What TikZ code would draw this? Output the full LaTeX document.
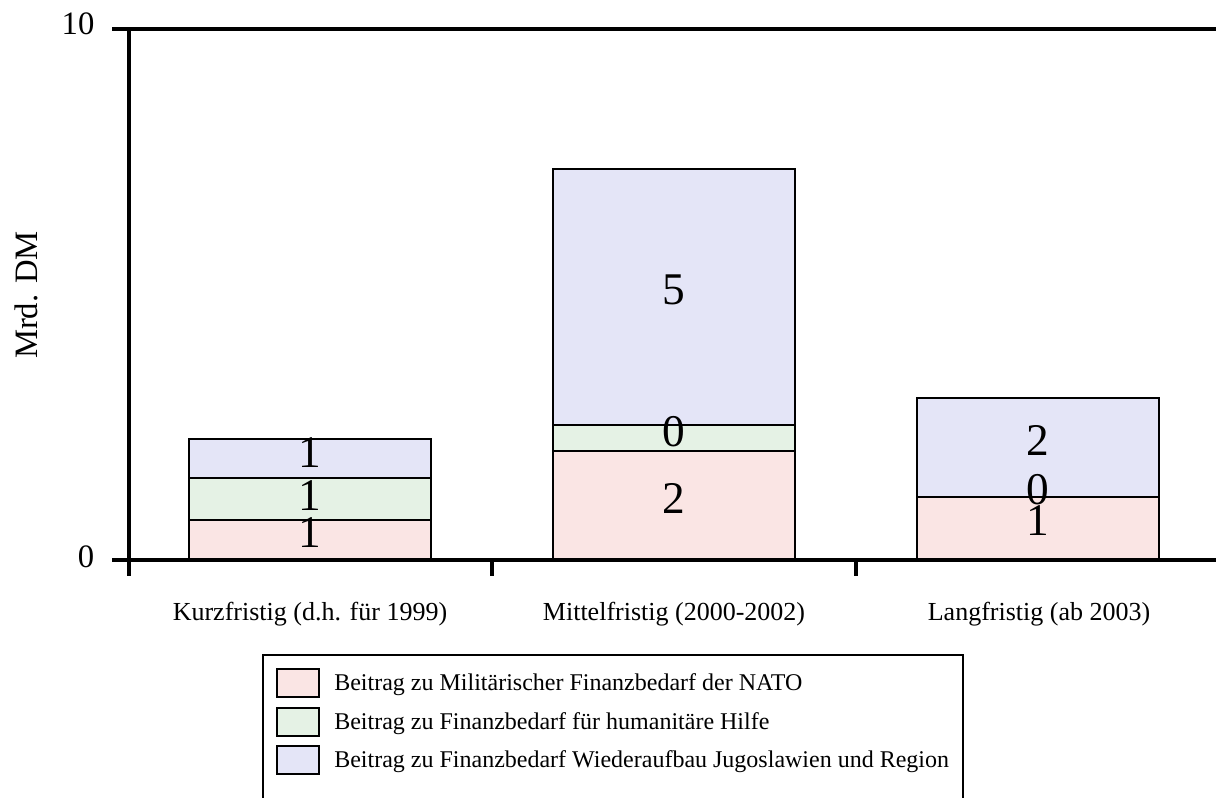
\documentclass[tikz,border=0pt]{standalone}
\usepackage{fontspec}
\setmainfont{Liberation Serif}
\definecolor{natoc}{HTML}{FAE5E4}
\definecolor{humc}{HTML}{E5F2E5}
\definecolor{jugc}{HTML}{E4E5F7}
\tikzset{
  axisline/.style={line width=2.5pt},
  barseg/.style={draw=black, line width=1.6pt},
  barlabel/.style={font=\fontsize{34}{34}\selectfont, inner sep=0pt},
  ticklabel/.style={font=\fontsize{24.5}{24.5}\selectfont, inner sep=0pt},
  catlabel/.style={font=\fontsize{19.5}{19.5}\selectfont, inner sep=0pt, anchor=base},
  legtext/.style={font=\fontsize{18}{18}\selectfont, inner sep=0pt, anchor=base west},
  swatch/.style={draw=black, line width=1.6pt},
}
\begin{document}
\begin{tikzpicture}[x=0.75pt,y=-0.75pt]
\useasboundingbox (0,0) rectangle (1216,798);
% bars: bar 1
\fill[natoc] (189,520) rectangle (431,560);
\fill[humc] (189,478) rectangle (431,520);
\fill[jugc] (189,439) rectangle (431,478);
\draw[barseg] (189,560) -- (189,439) -- (431,439) -- (431,560);
\draw[barseg] (189,478) -- (431,478);
\draw[barseg] (189,520) -- (431,520);
% bar 2
\fill[natoc] (553,451) rectangle (795,560);
\fill[humc] (553,425) rectangle (795,451);
\fill[jugc] (553,169) rectangle (795,425);
\draw[barseg] (553,560) -- (553,169) -- (795,169) -- (795,560);
\draw[barseg] (553,425) -- (795,425);
\draw[barseg] (553,451) -- (795,451);
% bar 3
\fill[natoc] (917,497) rectangle (1159,560);
\fill[jugc] (917,398) rectangle (1159,497);
\draw[barseg] (917,560) -- (917,398) -- (1159,398) -- (1159,560);
\draw[barseg] (917,497) -- (1159,497);
% bar labels
\node[barlabel] (b1n) at (310,533) {1};
\node[barlabel] (b1h) at (310,496) {1};
\node[barlabel] (b1j) at (310,453) {1};
\node[barlabel] (b2n) at (674,498) {2};
\node[barlabel] (b2h) at (674,432) {0};
\node[barlabel] (b2j) at (674,290) {5};
\node[barlabel] (b3n) at (1038,521) {1};
\node[barlabel] (b3h) at (1038,490) {0};
\node[barlabel] (b3j) at (1038,440) {2};
% axes
\coordinate (ytop) at (129,29);
\coordinate (ybot) at (129,576);
\coordinate (gl) at (112,29);
\coordinate (gr) at (1216,29);
\coordinate (xl) at (112,560);
\coordinate (xr) at (1216,560);
\draw[axisline] (gl) -- (gr);
\draw[axisline] (xl) -- (xr);
\draw[axisline] (ytop) -- (ybot);
\coordinate (t2a) at (492,560); \coordinate (t2b) at (492,576);
\coordinate (t3a) at (856,560); \coordinate (t3b) at (856,576);
\draw[axisline] (t2a) -- (t2b);
\draw[axisline] (t3a) -- (t3b);
\node[ticklabel] (y10) at (78,24) {10};
\node[ticklabel] (y0) at (86,557) {0};
\node[ticklabel, rotate=90] (ylab) at (26,295) {Mrd. DM};
% category labels
\node[catlabel] (c1) at (310,620) {Kurzfristig (d.h. für 1999)};
\node[catlabel] (c2) at (674,620) {Mittelfristig (2000-2002)};
\node[catlabel] (c3) at (1039,620) {Langfristig (ab 2003)};
% legend
\draw[line width=2pt] (263,800) -- (263,655) -- (963,655) -- (963,800);
\draw[swatch, fill=natoc] (277,669) rectangle (319,697);
\draw[swatch, fill=humc] (277,708) rectangle (319,736);
\draw[swatch, fill=jugc] (277,746) rectangle (319,774);
\node[legtext] (l1) at (334,690) {Beitrag zu Militärischer Finanzbedarf der NATO};
\node[legtext] (l2) at (334,729) {Beitrag zu Finanzbedarf für humanitäre Hilfe};
\node[legtext] (l3) at (334,767) {Beitrag zu Finanzbedarf Wiederaufbau Jugoslawien und Region};
\end{tikzpicture}
\end{document}
